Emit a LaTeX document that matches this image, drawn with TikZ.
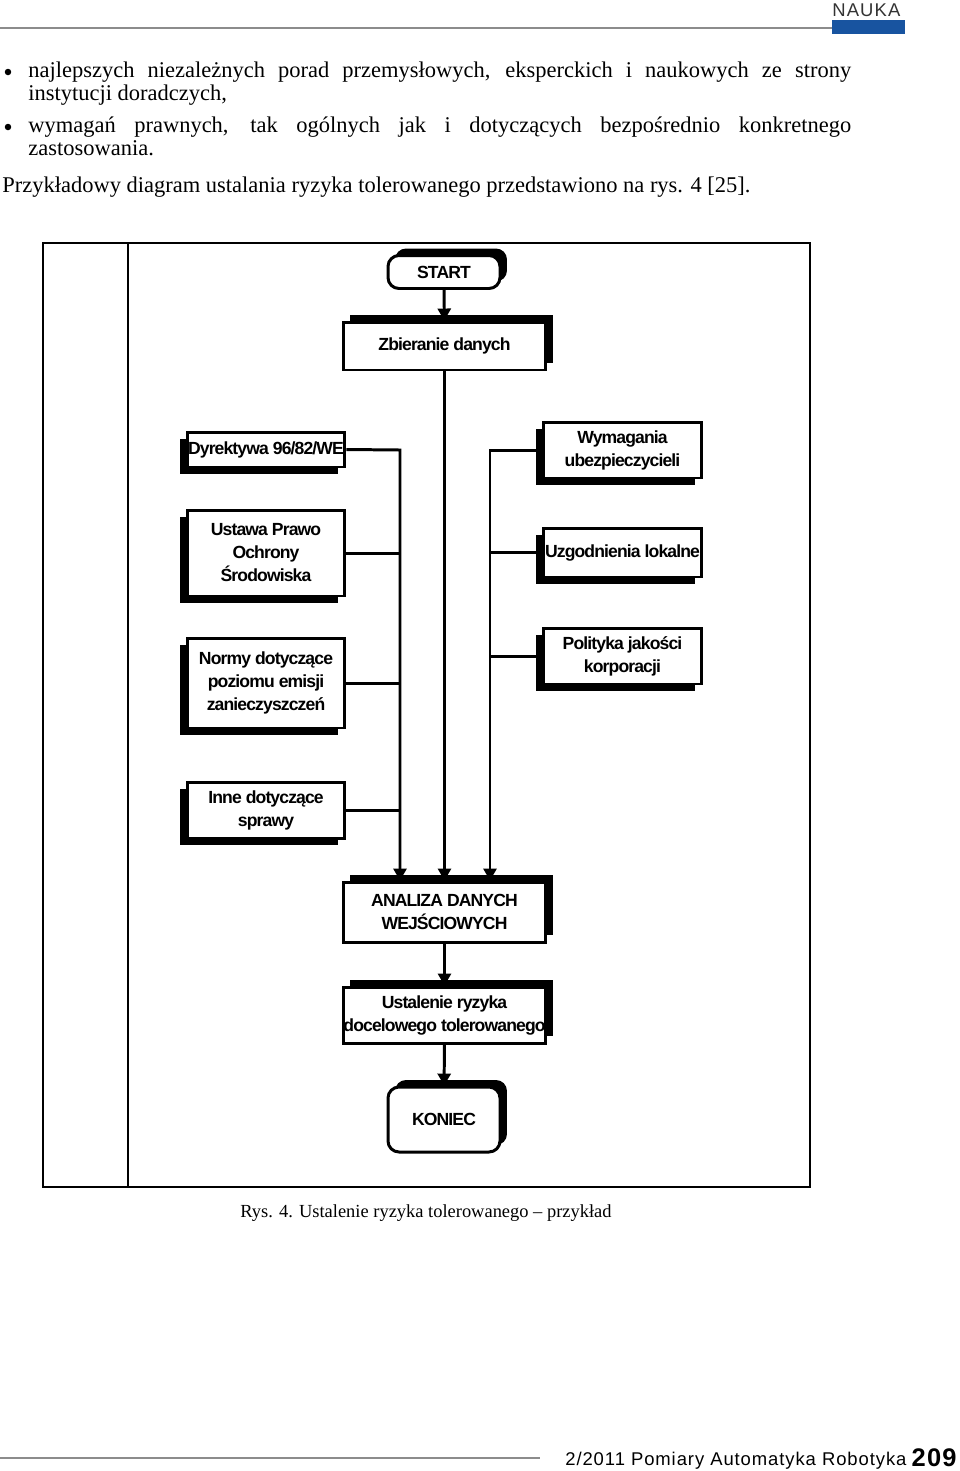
\documentclass[tikz,border=0pt]{standalone}
\usepackage{fontspec}
\usepackage{xcolor}
\usetikzlibrary{shapes,arrows.meta,positioning,calc,shadows}
\setmainfont{Liberation Serif}
\newfontfamily\boxfont{Liberation Sans}[LetterSpace=-5.0]
\newfontfamily\headfont{Liberation Sans}[LetterSpace=6.0]
\newfontfamily\footfont{Liberation Sans}[LetterSpace=5.0]
\definecolor{naukablue}{RGB}{24,84,160}
\definecolor{rulegray}{RGB}{140,140,140}

\begin{document}
\begin{tikzpicture}[x=0.02cm, y=-0.02cm,
    box/.style={draw, line width=1.7pt, fill=white, inner sep=0pt, align=center,
      font=\boxfont\bfseries\fontsize{10}{13.1}\selectfont},
    shadowup/.style={general shadow={fill=black, shadow xshift=0.14cm, shadow yshift=0.14cm}},
    shadowdown/.style={general shadow={fill=black, shadow xshift=-0.14cm, shadow yshift=-0.14cm}},
    term/.style={box, shadowup, rounded corners=0.22cm, minimum width=2.24cm},
    flow/.style={line width=1.7pt, -{Triangle[length=0.24cm, width=0.26cm]}},
    link/.style={line width=1.7pt},
    body/.style={anchor=base west, inner sep=0pt, font=\fontsize{12.8}{13.1}\selectfont},
    dot/.style={circle, fill=black, inner sep=0pt, minimum size=0.13cm}]
    \useasboundingbox (0,0) rectangle (960,1471);

    % page header
    \draw[rulegray, line width=0.6pt] (0,28) -- (832,28);
    \fill[naukablue] (832,20) rectangle (905,34);
    \node[anchor=base west, inner sep=0pt, text=black!80,
      font=\headfont\fontsize{10.5}{12}\selectfont] (nauka) at (832,16) {NAUKA};

    % text above the figure
    \node[dot] (b1) at (8,72) {};
    \node[body] (l1) at (28,77) {\makebox[16.46cm][s]{najlepszych niezależnych porad przemysłowych, eksperckich i naukowych ze strony}};
    \node[body] (l2) at (28,100) {instytucji doradczych,};
    \node[dot] (b2) at (8,127) {};
    \node[body] (l3) at (28,132) {\makebox[16.46cm][s]{wymagań prawnych, tak ogólnych jak i dotyczących bezpośrednio konkretnego}};
    \node[body] (l4) at (28,155) {zastosowania.};
    \node[body] (para) at (2,192) {Przykładowy diagram ustalania ryzyka tolerowanego przedstawiono na rys. 4 [25].};

    % frame
    \draw[line width=1.1pt] (43,243) rectangle (810,1187);
    \draw[line width=1.1pt] (128,243) -- (128,1187);

    % main line
    \node[term, minimum height=0.66cm] (start) at (444,272) {START};
    \node[box, shadowup, minimum width=4.06cm, minimum height=0.96cm] (zbieranie) at (444.5,346) {Zbieranie danych};

    % left inputs
    \node[box, shadowdown, minimum width=3.16cm, minimum height=0.70cm] (dyrektywa) at (266,449.5) {Dyrektywa 96/82/WE};
    \node[box, shadowdown, minimum width=3.16cm, minimum height=1.72cm] (ustawa) at (266,553) {Ustawa Prawo\\Ochrony\\Środowiska};
    \node[box, shadowdown, minimum width=3.16cm, minimum height=1.80cm] (normy) at (266,683) {Normy dotyczące\\poziomu emisji\\zanieczyszczeń};
    \node[box, shadowdown, minimum width=3.16cm, minimum height=1.12cm] (inne) at (266,810) {Inne dotyczące\\sprawy};

    % right inputs
    \node[box, shadowdown, minimum width=3.18cm, minimum height=1.12cm] (wymagania) at (622.5,450) {Wymagania\\ubezpieczycieli};
    \node[box, shadowdown, minimum width=3.18cm, minimum height=0.98cm] (uzgodnienia) at (622.5,552.5) {Uzgodnienia lokalne};
    \node[box, shadowdown, minimum width=3.18cm, minimum height=1.12cm] (polityka) at (622.5,656) {Polityka jakości\\korporacji};

    \node[box, shadowup, minimum width=4.06cm, minimum height=1.20cm] (analiza) at (444.5,912) {ANALIZA DANYCH\\WEJŚCIOWYCH};
    \node[box, shadowup, minimum width=4.06cm, minimum height=1.12cm] (ustalenie) at (444.5,1015) {Ustalenie ryzyka\\docelowego tolerowanego};
    \node[term, minimum height=1.30cm] (koniec) at (444,1119.5) {KONIEC};

    \coordinate (lbus) at (400,450);
    \coordinate (rbus) at (490,450);

    \draw[flow] (start) -- (zbieranie);
    \draw[flow] (zbieranie) -- (analiza);
    \draw[flow] (dyrektywa.east) -- (lbus) -- (lbus |- analiza.north);
    \draw[flow] (wymagania.west) -- (rbus) -- (rbus |- analiza.north);
    \foreach \n in {ustawa, normy, inne}
      \draw[link] (\n.east) -- (\n.east -| lbus);
    \foreach \n in {uzgodnienia, polityka}
      \draw[link] (\n.west) -- (\n.west -| rbus);
    \draw[flow] (analiza) -- (ustalenie);
    \draw[flow] (ustalenie) -- (koniec);

    \node[anchor=base, inner sep=0pt, font=\fontsize{10.5}{12}\selectfont] (caption) at (426,1217) {Rys. 4. Ustalenie ryzyka tolerowanego -- przykład};

    % page footer
    \draw[rulegray, line width=0.6pt] (0,1458) -- (540,1458);
    \node[anchor=base west, inner sep=0pt, font=\footfont\fontsize{10.5}{12}\selectfont] (foot) at (565,1465) {2/2011 Pomiary Automatyka Robotyka};
    \node[anchor=base east, inner sep=0pt, font=\footfont\bfseries\fontsize{14.5}{16}\selectfont] (page) at (957,1466) {209};
\end{tikzpicture}
\end{document}
